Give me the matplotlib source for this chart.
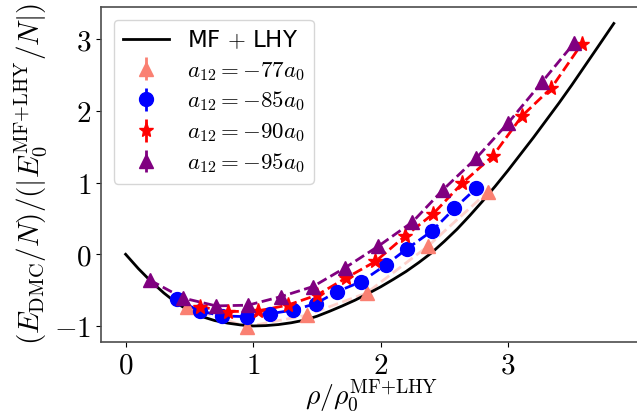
import matplotlib
matplotlib.use("Agg")
import matplotlib.pyplot as plt

plt.rcParams["mathtext.fontset"] = "cm"

# MF + LHY curve
rho_theory = [0.0, 0.1, 0.2, 0.3, 0.4, 0.5, 0.6, 0.7, 0.8, 0.9, 1.0, 1.1, 1.2, 1.3, 1.4, 1.5,
              1.6, 1.7, 1.8, 1.9, 2.0, 2.1, 2.2, 2.3, 2.4, 2.5, 2.6, 2.7, 2.8, 2.9, 3.0,
              3.1, 3.2, 3.3, 3.4, 3.5, 3.6, 3.7, 3.83]
e_theory = [0.0, -0.20, -0.38, -0.54, -0.68, -0.79, -0.87, -0.925, -0.96, -0.985, -1.0,
            -0.995, -0.98, -0.955, -0.92, -0.865, -0.795, -0.72, -0.64, -0.55, -0.455,
            -0.35, -0.24, -0.115, 0.02, 0.18, 0.35, 0.54, 0.74, 0.95, 1.17, 1.40, 1.63,
            1.87, 2.11, 2.36, 2.62, 2.88, 3.22]

# DMC results
rho_77 = [0.48, 0.95, 1.42, 1.89, 2.37, 2.84]
e_77 = [-0.74, -1.01, -0.85, -0.54, 0.11, 0.87]

rho_85 = [0.40, 0.58, 0.76, 0.95, 1.13, 1.31, 1.49, 1.66, 1.85, 2.04, 2.21, 2.40, 2.58, 2.75]
e_85 = [-0.63, -0.79, -0.86, -0.87, -0.83, -0.78, -0.69, -0.52, -0.38, -0.15, 0.08, 0.32,
        0.64, 0.92]

rho_90 = [0.58, 0.80, 1.04, 1.27, 1.50, 1.73, 1.96, 2.19, 2.41, 2.64, 2.88, 3.11, 3.34, 3.58]
e_90 = [-0.73, -0.80, -0.79, -0.71, -0.57, -0.33, -0.10, 0.25, 0.56, 0.99, 1.37, 1.93,
        2.32, 2.94]

rho_95 = [0.19, 0.45, 0.71, 0.96, 1.22, 1.47, 1.72, 1.98, 2.25, 2.49, 2.75, 3.00, 3.27, 3.52]
e_95 = [-0.36, -0.61, -0.72, -0.71, -0.59, -0.45, -0.19, 0.11, 0.45, 0.90, 1.34, 1.83,
        2.41, 2.95]

err = 0.02

series = [
    (rho_77, e_77, "salmon", "^", 10, r"$a_{12} = -77a_0$"),
    (rho_85, e_85, "blue", "o", 10, r"$a_{12} = -85a_0$"),
    (rho_90, e_90, "red", "*", 11, r"$a_{12} = -90a_0$"),
    (rho_95, e_95, "purple", "^", 10, r"$a_{12} = -95a_0$"),
]

fig = plt.figure(figsize=(6.37, 4.15), dpi=100)
ax = fig.add_axes([0.1586, 0.176, 0.849, 0.807])

ax.plot(rho_theory, e_theory, color="black", lw=2, label=r"MF $+$ LHY", zorder=3)

for rho, e, color, marker, ms, label in series:
    alpha = 0.35 if color == "salmon" else 1.0
    ax.plot(rho, e, "--", color=color, lw=2, alpha=alpha, zorder=2)
    ax.errorbar(rho, e, yerr=[err] * len(rho), fmt=marker, color=color, ms=ms,
                elinewidth=2, capsize=0, label=label, zorder=4)

ax.set_xlim(-0.193, 4.05)
ax.set_ylim(-1.223, 3.449)
ax.set_xticks([0, 1, 2, 3], [r"$0$", r"$1$", r"$2$", r"$3$"], fontsize=21)
ax.set_yticks([-1, 0, 1, 2, 3], [r"$-1$", r"$0$", r"$1$", r"$2$", r"$3$"], fontsize=21)
ax.set_xlabel(r"$\rho/\rho_0^{\rm MF{+}LHY}$", fontsize=20, labelpad=-1.5)
ax.set_ylabel(r"$(E_{\rm DMC}/N)/(|E_0^{\rm MF{+}LHY}/N|)$", fontsize=21, labelpad=4)
for spine in ax.spines.values():
    spine.set_color("0.3")
    spine.set_linewidth(1.2)

ax.legend(loc="upper left", fontsize=16.5, borderaxespad=0.55, labelspacing=0.3)

fig.savefig("out.png", dpi=100)
plt.close(fig)
